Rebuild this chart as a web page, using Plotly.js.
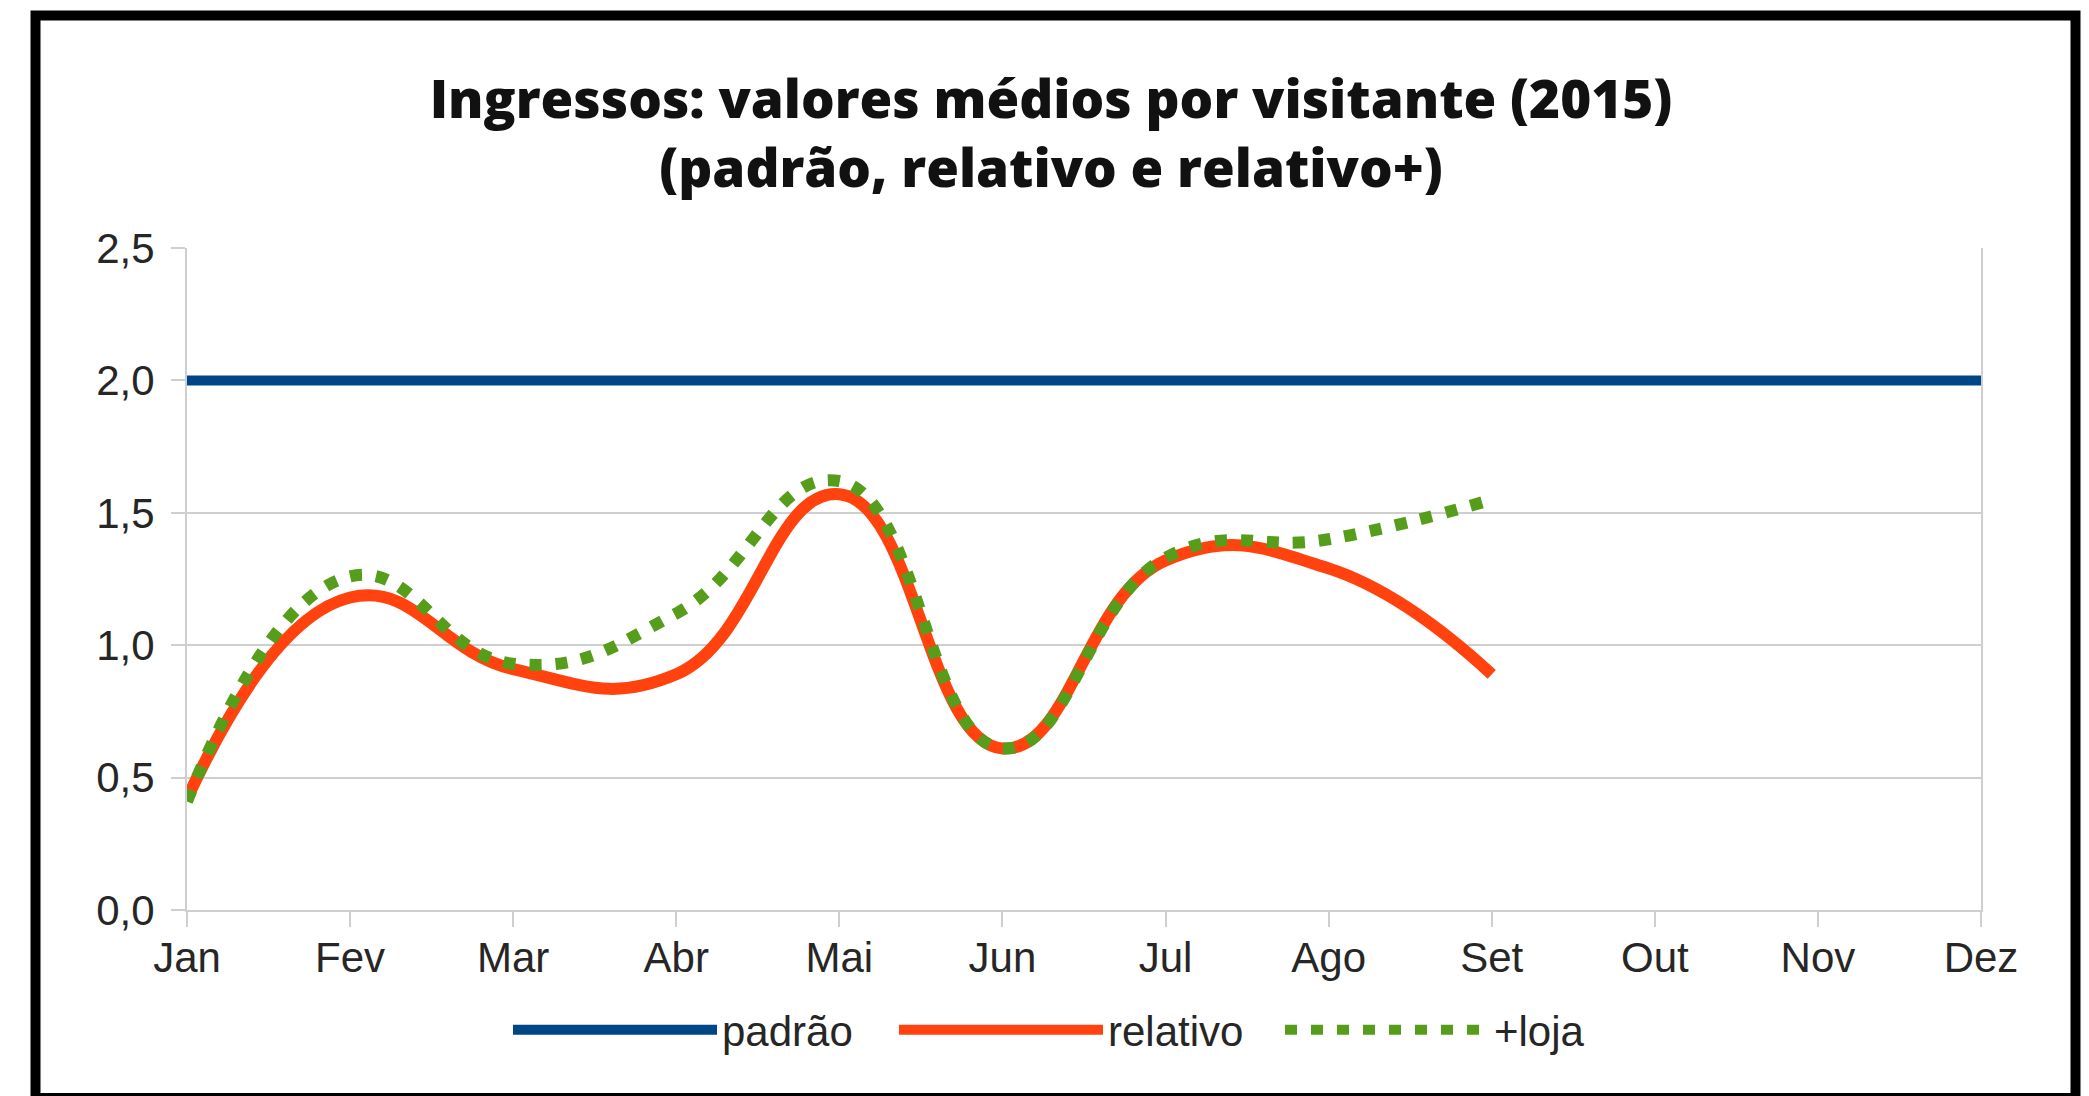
<!DOCTYPE html>
<html>
<head>
<meta charset="utf-8">
<script src="https://cdn.plot.ly/plotly-3.0.1.min.js"></script>
<style>
  html, body { margin: 0; padding: 0; background: #ffffff; }
  #chart { width: 2089px; height: 1096px; }
</style>
</head>
<body>
<div id="chart"></div>
<script>
// ---- data ----
const months = ['Jan', 'Fev', 'Mar', 'Abr', 'Mai', 'Jun', 'Jul', 'Ago', 'Set', 'Out', 'Nov', 'Dez'];
const padrao = [2.0, 2.0, 2.0, 2.0, 2.0, 2.0, 2.0, 2.0, 2.0, 2.0, 2.0, 2.0];
const relativo = [0.42, 1.18, 0.91, 0.89, 1.57, 0.61, 1.32, 1.29, 0.89];
const loja = [0.41, 1.26, 0.93, 1.12, 1.62, 0.61, 1.33, 1.40, 1.55];
const seriesNames = ['padrão', 'relativo', '+loja'];
const yTickVals = [0, 0.5, 1.0, 1.5, 2.0, 2.5];
const yTickText = ['0,0', '0,5', '1,0', '1,5', '2,0', '2,5'];
const titleText = 'Ingressos: valores médios por visitante (2015)<br>(padrão, relativo e relativo+)';

// ---- layout constants ----
const W = 2089, H = 1096;
const L = 187, R = 108, T = 248, B = 186;
const plotW = W - L - R, plotH = H - T - B;
const px2x = p => (p - L) / plotW;
const py2y = p => (H - B - p) / plotH;

const tickFont = { family: 'Liberation Sans, Arial, sans-serif', size: 42, color: '#262626' };
const titleFont = { family: 'Open Sans, sans-serif', size: 53, color: '#111111', weight: 800 };
const gridColor = '#cfcfcf';

const traces = [
  {
    x: months, y: padrao, name: seriesNames[0], type: 'scatter', mode: 'lines',
    line: { color: '#004586', width: 10, shape: 'linear' }, hoverinfo: 'skip'
  },
  {
    x: months.slice(0, relativo.length), y: relativo, name: seriesNames[1], type: 'scatter', mode: 'lines',
    line: { color: '#ff420e', width: 12, shape: 'spline', smoothing: 1.3 }, hoverinfo: 'skip'
  },
  {
    x: months.slice(0, loja.length), y: loja, name: seriesNames[2], type: 'scatter', mode: 'lines',
    line: { color: '#579d1c', width: 12, shape: 'spline', smoothing: 1.3, dash: '12px,14px' }, hoverinfo: 'skip'
  }
];

const layout = {
  width: W, height: H,
  margin: { l: L, r: R, t: T, b: B, pad: 0 },
  paper_bgcolor: '#ffffff', plot_bgcolor: '#ffffff',
  title: {
    text: titleText,
    font: titleFont,
    x: 1051 / W, xanchor: 'center', xref: 'container',
    y: 1 - 118 / H, yanchor: 'middle', yref: 'container'
  },
  showlegend: true,
  legend: {
    orientation: 'h', x: px2x(508), xanchor: 'left', y: py2y(1030), yanchor: 'middle',
    font: tickFont, itemwidth: 204, entrywidth: 167, entrywidthmode: 'pixels',
    traceorder: 'normal', bgcolor: 'rgba(0,0,0,0)'
  },
  xaxis: {
    type: 'category', range: [0, months.length - 1], categoryarray: months,
    showgrid: false, zeroline: false,
    showline: true, linecolor: gridColor, linewidth: 2,
    ticks: 'outside', ticklen: 15, tickwidth: 2, tickcolor: gridColor,
    ticklabelstandoff: -5,
    tickfont: tickFont, fixedrange: true
  },
  yaxis: {
    range: [0, 2.5], tickvals: yTickVals, ticktext: yTickText,
    showgrid: true, gridcolor: gridColor, gridwidth: 2, zeroline: false,
    showline: true, linecolor: gridColor, linewidth: 2, mirror: true,
    ticks: 'outside', ticklen: 14, tickwidth: 2, tickcolor: gridColor,
    ticklabelstandoff: 8,
    tickfont: tickFont, fixedrange: true
  },
  shapes: [
    {
      type: 'rect', xref: 'paper', yref: 'paper',
      x0: px2x(35.5), x1: px2x(2075.5), y0: py2y(1098), y1: py2y(15.5),
      line: { color: '#000000', width: 10 }, fillcolor: 'rgba(0,0,0,0)', layer: 'above'
    }
  ]
};

Plotly.newPlot('chart', traces, layout, { staticPlot: true, displayModeBar: false });
</script>
</body>
</html>
